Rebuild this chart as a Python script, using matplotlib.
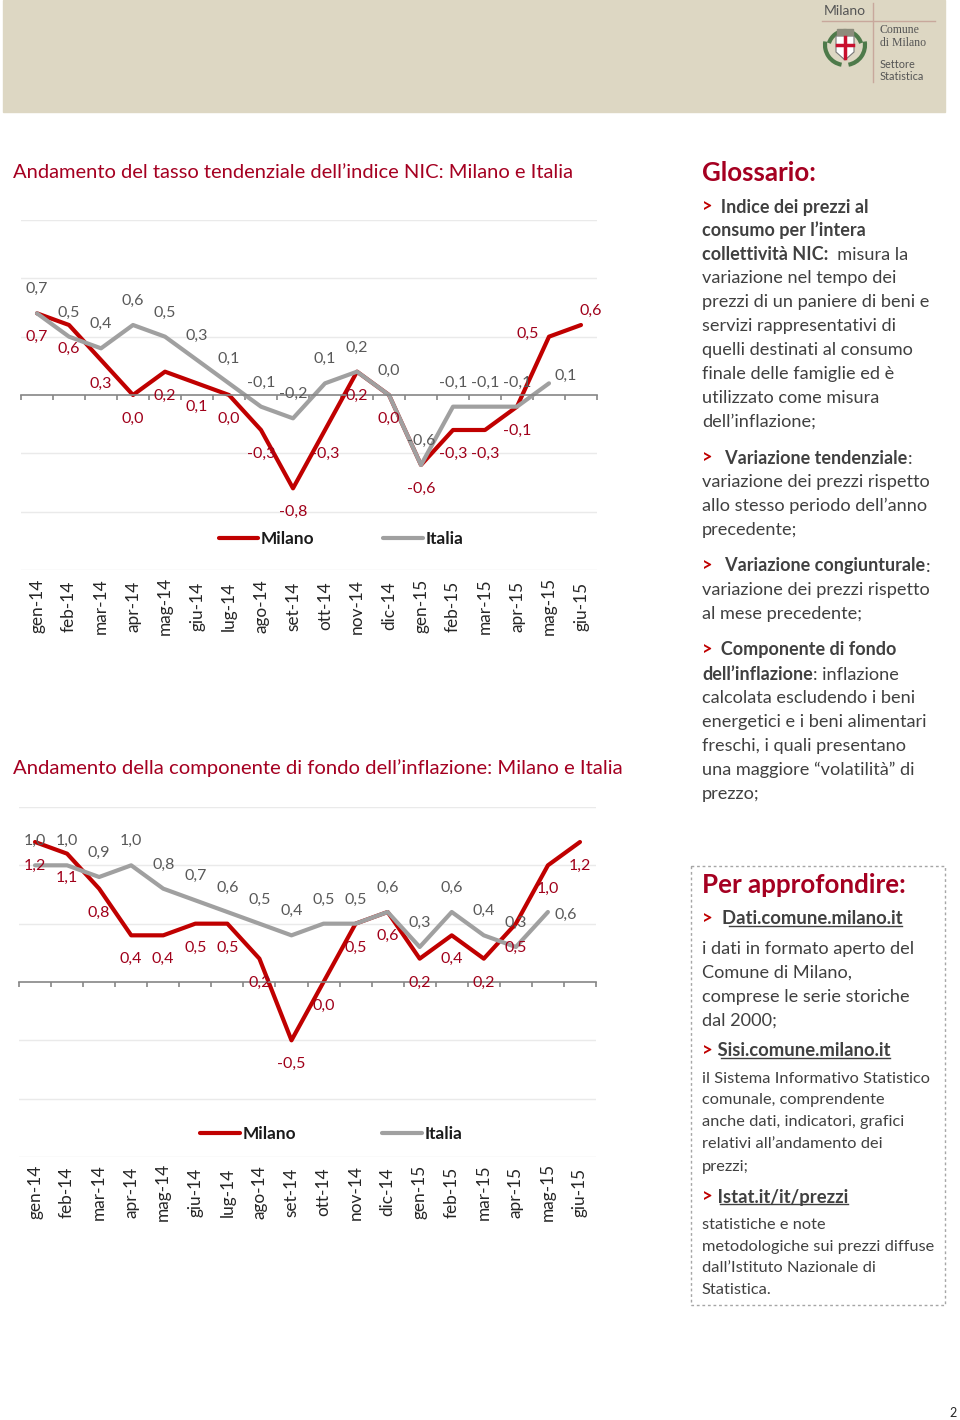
import numpy as np
import matplotlib
matplotlib.use('Agg')
import matplotlib.pyplot as plt
from matplotlib.patches import Rectangle, Polygon, Arc

plt.rcParams['font.family'] = ['Lato', 'DejaVu Sans']

MONTHS = ['gen-14', 'feb-14', 'mar-14', 'apr-14', 'mag-14', 'giu-14',
          'lug-14', 'ago-14', 'set-14', 'ott-14', 'nov-14', 'dic-14',
          'gen-15', 'feb-15', 'mar-15', 'apr-15', 'mag-15', 'giu-15']

# tasso tendenziale indice NIC
NIC_MILANO = [0.7, 0.6, 0.3, 0.0, 0.2, 0.1, 0.0, -0.3, -0.8, -0.3,
              0.2, 0.0, -0.6, -0.3, -0.3, -0.1, 0.5, 0.6]
NIC_ITALIA = [0.7, 0.5, 0.4, 0.6, 0.5, 0.3, 0.1, -0.1, -0.2, 0.1,
              0.2, 0.0, -0.6, -0.1, -0.1, -0.1, 0.1]

# componente di fondo dell'inflazione
FONDO_MILANO = [1.2, 1.1, 0.8, 0.4, 0.4, 0.5, 0.5, 0.2, -0.5, 0.0,
                0.5, 0.6, 0.2, 0.4, 0.2, 0.5, 1.0, 1.2]
FONDO_ITALIA = [1.0, 1.0, 0.9, 1.0, 0.8, 0.7, 0.6, 0.5, 0.4, 0.5,
                0.5, 0.6, 0.3, 0.6, 0.4, 0.3, 0.6]

RED = '#C00000'
RED_TXT = '#A0001A'
TITLE_RED = '#A50021'
GRAY = '#A0A0A0'
GRAY_TXT = '#595959'
TEXT = '#404040'
PX = 72 / 100  # pixels -> points

fig = plt.figure(figsize=(9.6, 14.2), dpi=100)
bg = fig.add_axes([0, 0, 1, 1])
bg.set_xlim(0, 960)
bg.set_ylim(1420, 0)
bg.axis('off')


def fmt(v):
    return f'{v:.1f}'.replace('.', ',')


def draw_chart(box, milano, italia, mil_pos, ita_pos, leg_xy, colsp, lab_y):
    left, top, right, bottom = box
    ax = fig.add_axes([left / 960, 1 - bottom / 1420,
                       (right - left) / 960, (bottom - top) / 1420])
    ax.patch.set_visible(False)
    ax.set_xlim(-0.5, len(MONTHS) - 0.5)
    ax.set_ylim(-1.5, 1.5)
    for name, sp in ax.spines.items():
        sp.set_visible(name == 'bottom')
    ax.spines['bottom'].set_position(('data', 0))
    ax.spines['bottom'].set_color('#868686')
    ax.spines['bottom'].set_linewidth(1.2)
    ax.set_xticks(np.arange(len(MONTHS) + 1) - 0.5)
    ax.set_xticklabels([])
    ax.tick_params(axis='x', length=3.5, width=1.2, color='#868686')
    ax.set_yticks([])
    for g in [-1.5, -1.0, -0.5, 0.5, 1.0, 1.5]:
        ax.axhline(g, color='#EAEAEA', lw=1, zorder=0)

    l1, = ax.plot(range(len(milano)), milano, color=RED, lw=3,
                  solid_joinstyle='round', solid_capstyle='round', label='Milano')
    l2, = ax.plot(range(len(italia)), italia, color=GRAY, lw=3,
                  solid_joinstyle='round', solid_capstyle='round', label='Italia')

    for vals, pos, col in [(milano, mil_pos, RED_TXT), (italia, ita_pos, GRAY_TXT)]:
        for i, v in enumerate(vals):
            dx, dy = pos.get(i, pos['default'])
            ax.annotate(fmt(v), (i, v), xytext=(dx * PX, dy * PX),
                        textcoords='offset points', ha='center', va='center',
                        fontsize=11.5, color=col)

    for i, m in enumerate(MONTHS):
        ax.text(i, lab_y, m, transform=ax.get_xaxis_transform(), rotation=90,
                ha='center', va='center', fontsize=12.4, color='#262626')

    leg = ax.legend(handles=[l1, l2], loc='center', bbox_to_anchor=leg_xy, ncol=2,
                    frameon=False, handlelength=2.3, handletextpad=0.15,
                    columnspacing=colsp, prop={'weight': 'bold', 'size': 12.4})
    for t in leg.get_texts():
        t.set_color('#1A1A1A')
    return ax


# header band and logo
bg.add_patch(Rectangle((3, 0), 942, 112, color='#DDD7C3', zorder=0))
bg.plot([873, 873], [3, 82], color='#C8A89C', lw=1)
bg.plot([822, 935], [21, 21], color='#C8A89C', lw=1)
bg.text(845, 11, 'Milano', fontsize=10, color='#555555', ha='center', va='center')
bg.text(880, 30, 'Comune', fontsize=8.5, color='#555555', va='center', family='Liberation Serif')
bg.text(880, 43, 'di Milano', fontsize=8.5, color='#555555', va='center', family='Liberation Serif')
bg.text(880, 65, 'Settore', fontsize=7.8, color='#555555', va='center')
bg.text(880, 77, 'Statistica', fontsize=7.8, color='#555555', va='center')
bg.add_patch(Arc((845, 49), 34, 36, theta1=200, theta2=340, color='#4E7A4A', lw=3))
bg.add_patch(Arc((845, 45), 40, 40, theta1=100, theta2=190, color='#4E7A4A', lw=3))
bg.add_patch(Arc((845, 45), 40, 40, theta1=-10, theta2=80, color='#4E7A4A', lw=3))
bg.add_patch(Polygon([(836, 36), (854, 36), (854, 52), (845, 60), (836, 52)],
                     closed=True, facecolor='white', edgecolor='#777777', lw=0.8))
bg.plot([845, 845], [37, 58], color='#C8102E', lw=2.5)
bg.plot([837, 853], [45, 45], color='#C8102E', lw=2.5)
bg.add_patch(Rectangle((837, 29), 16, 6, color='#8C8C7C'))

# chart titles
bg.text(13, 173, 'Andamento del tasso tendenziale dell’indice NIC: Milano e Italia',
        fontsize=14.5, color=TITLE_RED, va='center')
bg.text(13, 768, 'Andamento della componente di fondo dell’inflazione: Milano e Italia',
        fontsize=14.55, color=TITLE_RED, va='center')

draw_chart((21, 220, 597, 570), NIC_MILANO, NIC_ITALIA,
           {'default': (0, -24), 16: (-21, 3), 17: (10, 14)},
           {'default': (0, 24), 16: (17, 7)},
           ((341 - 21) / 576, (570 - 539) / 350), 4.0, -0.103)
draw_chart((19, 807, 596, 1157), FONDO_MILANO, FONDO_ITALIA,
           {'default': (0, -24)},
           {'default': (0, 24), 16: (18, -3)},
           ((331 - 19) / 577, (1157 - 1134) / 350), 5.0, -0.1)


def rich(x, y, parts, size=13.1, bold_size=None):
    prev = None
    out = []
    for txt, weight, color in parts:
        fs = bold_size if (weight == 'bold' and bold_size) else size
        if prev is None:
            prev = bg.text(x, y, txt, fontsize=fs, fontweight=weight,
                           color=color, ha='left', va='center')
        else:
            prev = bg.annotate(txt, xy=(1, 0), xycoords=prev, fontsize=fs,
                               fontweight=weight, color=color, ha='left', va='bottom')
        out.append(prev)
    return out


B, N = 'bold', 'normal'
gloss = [
    (207, [('>', B, RED), ('  Indice dei prezzi al', B, TEXT)]),
    (230, [('consumo per l’intera', B, TEXT)]),
    (254, [('collettività NIC:', B, TEXT), ('  misura la', N, TEXT)]),
    (278, [('variazione nel tempo dei', N, TEXT)]),
    (302, [('prezzi di un paniere di beni e', N, TEXT)]),
    (326, [('servizi rappresentativi di', N, TEXT)]),
    (350, [('quelli destinati al consumo', N, TEXT)]),
    (374, [('finale delle famiglie ed è', N, TEXT)]),
    (398, [('utilizzato come misura', N, TEXT)]),
    (422, [('dell’inflazione;', N, TEXT)]),
    (458, [('>', B, RED), ('   Variazione tendenziale', B, TEXT), (':', N, TEXT)]),
    (482, [('variazione dei prezzi rispetto', N, TEXT)]),
    (506, [('allo stesso periodo dell’anno', N, TEXT)]),
    (530, [('precedente;', N, TEXT)]),
    (566, [('>', B, RED), ('   Variazione congiunturale', B, TEXT), (':', N, TEXT)]),
    (590, [('variazione dei prezzi rispetto', N, TEXT)]),
    (614, [('al mese precedente;', N, TEXT)]),
    (650, [('>', B, RED), ('  Componente di fondo', B, TEXT)]),
    (674, [('dell’inflazione', B, TEXT), (': inflazione', N, TEXT)]),
    (698, [('calcolata escludendo i beni', N, TEXT)]),
    (722, [('energetici e i beni alimentari', N, TEXT)]),
    (746, [('freschi, i quali presentano', N, TEXT)]),
    (770, [('una maggiore “volatilità” di', N, TEXT)]),
    (794, [('prezzo;', N, TEXT)]),
]
bg.text(702, 173, 'Glossario:', fontsize=18.6, fontweight='bold', color=TITLE_RED, va='center')
for y, parts in gloss:
    rich(702, y, parts, bold_size=12.95)

# box "Per approfondire"
bg.add_patch(Rectangle((691, 866), 254, 439, fill=False, edgecolor='#A6A6A6',
                       lw=1, linestyle=(0, (2, 2))))
bg.text(702, 885, 'Per approfondire:', fontsize=18.6, fontweight='bold', color=TITLE_RED, va='center')
links = []
links.append(rich(702, 919, [('>', B, RED), ('  Dati.comune.milano.it', B, TEXT)], bold_size=13.3)[1])
for y, s in [(949, 'i dati in formato aperto del'), (973, 'Comune di Milano,'),
             (997, 'comprese le serie storiche'), (1021, 'dal 2000;')]:
    rich(702, y, [(s, N, TEXT)])
links.append(rich(702, 1051, [('>', B, RED), (' Sisi.comune.milano.it', B, TEXT)], bold_size=13.3)[1])
for y, s in [(1079, 'il Sistema Informativo Statistico'), (1100, 'comunale, comprendente'),
             (1122, 'anche dati, indicatori, grafici'), (1144, 'relativi all’andamento dei'),
             (1167, 'prezzi;')]:
    rich(702, y, [(s, N, TEXT)], size=11.75)
links.append(rich(702, 1197, [('>', B, RED), (' Istat.it/it/prezzi', B, TEXT)], bold_size=13.3)[1])
for y, s in [(1225, 'statistiche e note'), (1247, 'metodologiche sui prezzi diffuse'),
             (1268, 'dall’Istituto Nazionale di'), (1290, 'Statistica.')]:
    rich(702, y, [(s, N, TEXT)], size=11.75)

bg.text(953, 1413, '2', fontsize=9, color='#262626', ha='center', va='center')

# underline the links
fig.canvas.draw()
inv = bg.transData.inverted()
for t in links:
    bb = t.get_window_extent()
    txt = t.get_text()
    lead = len(txt) - len(txt.lstrip())
    (x0, y0), (x1, y1) = inv.transform([(bb.x0, bb.y0), (bb.x1, bb.y1)])
    x0 += (x1 - x0) * lead / len(txt)
    bg.plot([x0, x1], [y0 - 2, y0 - 2], color=TEXT, lw=1)

fig.savefig('out.png', dpi=100)
